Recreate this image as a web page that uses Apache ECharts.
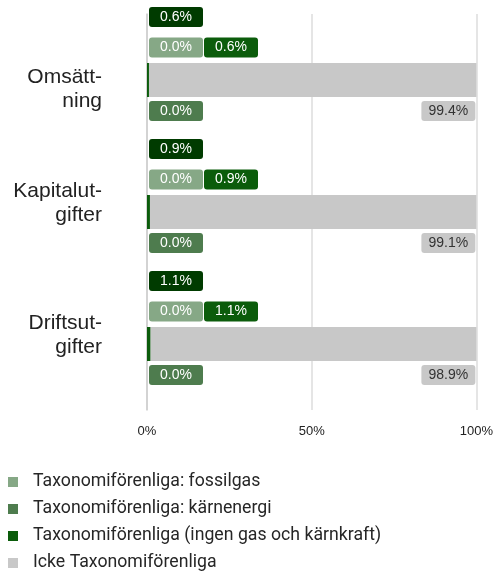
<!DOCTYPE html>
<html>
<head>
<meta charset="utf-8">
<script src="https://cdn.jsdelivr.net/npm/echarts@6/dist/echarts.min.js"></script>
<style>
  html, body { margin: 0; padding: 0; background: #fff; }
  #chart { width: 496px; height: 575px; }
</style>
</head>
<body>
<div id="chart"></div>
<script>
const categories = ['Omsätt-\nning', 'Kapitalut-\ngifter', 'Driftsut-\ngifter']
const fossilgas = [0.0, 0.0, 0.0]
const karnenergi = [0.0, 0.0, 0.0]
const taxonomi = [0.6, 0.9, 1.1]
const ickeTaxonomi = [99.4, 99.1, 98.9]
const totalForenliga = [0.6, 0.9, 1.1]
const xTicks = [0, 50, 100]

const colors = {
  fossil: '#86a886',
  karn: '#4e7c4e',
  tax: '#0b5c0b',
  total: '#003b00',
  icke: '#c8c8c8'
}

const boxLabel = (bg, pos, textColor) => ({
  show: true,
  position: pos,
  align: 'center',
  verticalAlign: 'middle',
  width: 46,
  padding: [3, 4],
  borderRadius: 3,
  backgroundColor: bg,
  color: textColor || '#ffffff',
  fontFamily: 'Liberation Sans',
  fontSize: 14,
  formatter: (p) => p.value.toFixed(1) + '%'
})

// the first label sits below the band centre, the others above it
const yLabel = (value, index) => {
  const lines = value.split('\n').map((l) => `{t|${l}}`).join('\n')
  return index === 0 ? `{top| }\n${lines}` : `${lines}\n{bot| }`
}

const chart = echarts.init(document.getElementById('chart'))

chart.setOption({
  backgroundColor: '#fff',
  animation: false,
  grid: { left: 147, right: 18, top: 14, bottom: 165 },
  legend: {
    orient: 'vertical',
    left: 8,
    top: 473,
    height: 200,
    padding: 0,
    itemWidth: 10,
    itemHeight: 10,
    itemGap: 9,
    icon: 'rect',
    data: [
      'Taxonomiförenliga: fossilgas',
      'Taxonomiförenliga: kärnenergi',
      'Taxonomiförenliga (ingen gas och kärnkraft)',
      'Icke Taxonomiförenliga'
    ],
    textStyle: {
      color: '#262626',
      fontFamily: 'Roboto',
      fontSize: 17.7,
      padding: [0, 0, 0, 10]
    }
  },
  xAxis: {
    type: 'value',
    min: 0,
    max: 100,
    interval: 50,
    axisLine: { show: false },
    axisTick: { show: false },
    splitLine: { lineStyle: { color: '#dddddd', width: 1.5 } },
    axisLabel: {
      margin: 15,
      color: '#222',
      fontFamily: 'Liberation Sans',
      fontSize: 13,
      formatter: (v) => (xTicks.includes(v) ? v + '%' : '')
    }
  },
  yAxis: [
    {
      type: 'category',
      inverse: true,
      data: categories,
      axisLine: { lineStyle: { color: '#cccccc', width: 1.5 } },
      axisTick: { length: 4, lineStyle: { color: '#cccccc' } },
      axisLabel: {
        margin: 45,
        align: 'right',
        formatter: yLabel,
        rich: {
          t: { color: '#222', fontFamily: 'Liberation Sans', fontSize: 21, lineHeight: 24, align: 'right' },
          top: { fontSize: 10, lineHeight: 19 },
          bot: { fontSize: 10, lineHeight: 17 }
        }
      }
    },
    {
      type: 'category',
      inverse: true,
      position: 'left',
      data: categories,
      axisLine: { show: false },
      axisTick: { alignWithLabel: true, length: 4, lineStyle: { color: '#cccccc' } },
      axisLabel: { show: false }
    }
  ],
  series: [
    {
      name: 'Taxonomiförenliga: fossilgas',
      type: 'bar',
      stack: 'a',
      barWidth: 34,
      data: fossilgas,
      itemStyle: { color: colors.fossil },
      label: boxLabel(colors.fossil, [29, -15.5])
    },
    {
      name: 'Taxonomiförenliga: kärnenergi',
      type: 'bar',
      stack: 'a',
      data: karnenergi,
      itemStyle: { color: colors.karn },
      label: boxLabel(colors.karn, [29, 48])
    },
    {
      name: 'Taxonomiförenliga (ingen gas och kärnkraft)',
      type: 'bar',
      stack: 'a',
      data: taxonomi,
      itemStyle: { color: colors.tax },
      label: boxLabel(colors.tax, [84, -15.5])
    },
    {
      name: 'Icke Taxonomiförenliga',
      type: 'bar',
      stack: 'a',
      data: ickeTaxonomi,
      itemStyle: { color: colors.icke },
      label: Object.assign(boxLabel(colors.icke, ['100%', 48], '#333'), {
        offset: [-28, 0]
      })
    },
    {
      name: 'Taxonomiförenliga totalt',
      type: 'bar',
      barWidth: 34,
      barGap: '-100%',
      data: totalForenliga,
      itemStyle: { color: 'rgba(0,0,0,0)' },
      label: boxLabel(colors.total, [29, -46]),
      z: 3
    }
  ]
})
</script>
</body>
</html>
